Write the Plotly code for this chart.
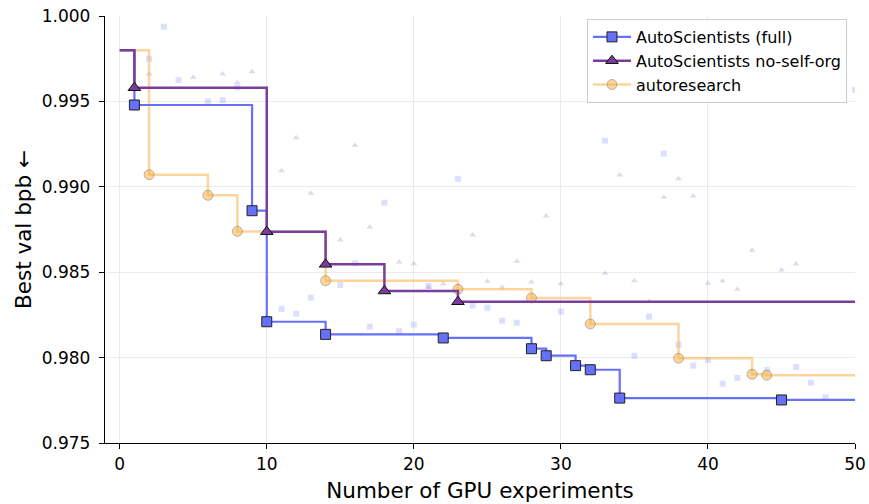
import plotly.graph_objects as go

# ---------------- data ----------------
start_x = 0
start_val = 0.998
end_x = 50

full_best_x = [1, 9, 10, 14, 22, 28, 29, 31, 32, 34, 45]
full_best_y = [0.99479, 0.98860, 0.98210, 0.98136, 0.98115, 0.98052, 0.98011,
               0.97953, 0.97929, 0.97763, 0.97752]
full_trial_x = [2, 3, 4, 6, 7, 8, 11, 12, 13, 15, 16, 17, 18, 19, 20, 21, 23, 24,
                25, 26, 27, 30, 33, 35, 36, 37, 38, 39, 40, 41, 42, 44, 46, 47, 48, 50]
full_trial_y = [0.99750, 0.99937, 0.99625, 0.99500, 0.99508, 0.99583, 0.98285,
                0.98257, 0.98351, 0.98425, 0.98552, 0.98181, 0.98907, 0.98154,
                0.98193, 0.98420, 0.99046, 0.98306, 0.98292, 0.98216, 0.98204,
                0.98269, 0.99270, 0.98011, 0.98240, 0.99194, 0.98076, 0.97953,
                0.97986, 0.97847, 0.97881, 0.97927, 0.97945, 0.97853, 0.97768,
                0.99567]

noso_best_x = [1, 10, 14, 18, 23]
noso_best_y = [0.99580, 0.98737, 0.98546, 0.98390, 0.98327]
noso_trial_x = [2, 5, 7, 8, 9, 11, 12, 13, 15, 16, 17, 19, 20, 21, 22, 24, 25, 26,
                27, 28, 29, 30, 33, 34, 35, 36, 37, 38, 39, 40, 41, 42, 43, 45, 46]
noso_trial_y = [0.99660, 0.99641, 0.99660, 0.99610, 0.99674, 0.99094, 0.99287,
                0.98962, 0.98689, 0.99243, 0.98763, 0.98560, 0.98550, 0.98410,
                0.98431, 0.98718, 0.98447, 0.98412, 0.98564, 0.98443, 0.98829,
                0.98433, 0.98494, 0.99069, 0.98450, 0.98330, 0.98939, 0.99047,
                0.98946, 0.98435, 0.98448, 0.98400, 0.98628, 0.98513, 0.98548]

auto_best_x = [2, 6, 8, 14, 23, 28, 32, 38, 43, 44]
auto_best_y = [0.99071, 0.98950, 0.98739, 0.98450, 0.98400, 0.98349, 0.98197,
               0.97996, 0.97902, 0.97897]

x_ticks = [0, 10, 20, 30, 40, 50]
y_ticks = [0.975, 0.980, 0.985, 0.990, 0.995, 1.000]

names = ["AutoScientists (full)", "AutoScientists no-self-org", "autoresearch"]

# ---------------- styles ----------------
BLUE = "#6670F8"
PURPLE = "#7B3D9B"
ORANGE = "rgba(247,178,76,0.55)"
FONT = "DejaVu Sans"

fig = go.Figure()

# faint trial scatter
fig.add_trace(go.Scatter(x=full_trial_x, y=full_trial_y, mode="markers",
                         marker=dict(symbol="square", size=6, color="rgba(102,112,248,0.22)"),
                         showlegend=False, hoverinfo="skip"))
fig.add_trace(go.Scatter(x=noso_trial_x, y=noso_trial_y, mode="markers",
                         marker=dict(symbol="triangle-up", size=6, color="rgba(123,61,155,0.2)"),
                         showlegend=False, hoverinfo="skip"))


def add_series(bx, by, name, rank, color, lw, symbol, msize, mcolor, mline):
    xs = [start_x] + bx + [end_x]
    ys = [start_val] + by + [by[-1]]
    fig.add_trace(go.Scatter(x=xs, y=ys, mode="lines", line=dict(color=color, width=lw, shape="hv"),
                             showlegend=False, hoverinfo="skip"))
    fig.add_trace(go.Scatter(x=bx, y=by, mode="markers",
                             marker=dict(symbol=symbol, size=msize, color=mcolor, line=mline),
                             showlegend=False))
    fig.add_trace(go.Scatter(x=[None], y=[None], mode="lines+markers", name=name, legendrank=rank,
                             line=dict(color=color, width=lw),
                             marker=dict(symbol=symbol, size=msize, color=mcolor, line=mline)))


# drawing order: orange, blue, purple
add_series(auto_best_x, auto_best_y, names[2], 1003, ORANGE, 2.5, "circle", 10,
           "rgba(247,178,76,0.55)", dict(color="rgba(110,110,110,0.45)", width=1))
add_series(full_best_x, full_best_y, names[0], 1001, BLUE, 2.2, "square", 10,
           BLUE, dict(color="#222222", width=1))
add_series(noso_best_x, noso_best_y, names[1], 1002, PURPLE, 2.5, "triangle-up", 11,
           PURPLE, dict(color="#111111", width=1))

fig.update_layout(
    width=869, height=504,
    margin=dict(l=105, r=14, t=16, b=61, autoexpand=False),
    paper_bgcolor="white", plot_bgcolor="white",
    font=dict(family=FONT, size=16, color="black"),
    showlegend=True,
    legend=dict(x=0.9893, y=0.993, xanchor="right", yanchor="top",
                bgcolor="rgba(255,255,255,0.9)", bordercolor="#cccccc", borderwidth=1,
                font=dict(family=FONT, size=16), tracegroupgap=0, itemwidth=38),
)
fig.update_xaxes(range=[-1, 50], tickvals=x_ticks, ticks="outside", ticklen=5, tickwidth=1.2,
                 tickcolor="black", showline=True, linecolor="black", linewidth=1.3,
                 showgrid=True, gridcolor="#ebebeb", gridwidth=1, zeroline=False, automargin=False,
                 tickfont=dict(size=17), title=dict(text="Number of GPU experiments",
                                                    font=dict(size=21.5), standoff=10))
fig.update_yaxes(range=[0.975, 1.000], tickvals=y_ticks, tickformat=".3f", ticks="outside",
                 ticklen=5, tickwidth=1.2, tickcolor="black", showline=True, linecolor="black",
                 linewidth=1.3, showgrid=True, gridcolor="#ebebeb", gridwidth=1, zeroline=False,
                 automargin=False, ticklabelstandoff=5,
                 tickfont=dict(size=17), title=dict(text="Best val bpb ←", font=dict(size=21.5), standoff=4))

fig.write_html("out.html")
